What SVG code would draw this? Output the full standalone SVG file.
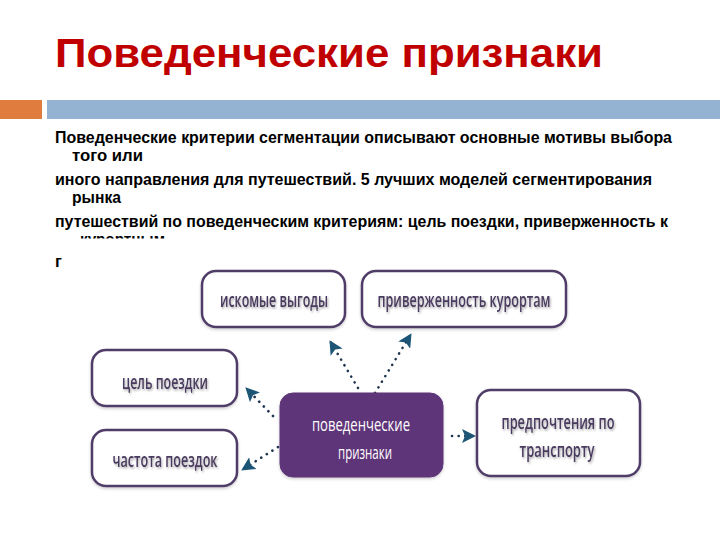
<svg xmlns="http://www.w3.org/2000/svg" width="720" height="540" viewBox="0 0 720 540">
<defs>
<style>
.title{font-family:"Liberation Sans",Arial,sans-serif;font-weight:bold;font-size:41px;fill:#c00000}
.body{font-family:"Liberation Sans",Arial,sans-serif;font-weight:bold;font-size:16.5px;fill:#000}
.box{fill:#fff;stroke:#503d68;stroke-width:2.5}
.core{fill:#5e3579;stroke:#5e3579;stroke-width:1}
.lbl{font-family:"Open Sans","Noto Sans",sans-serif;font-weight:600;font-size:19px;fill:#4a3b5e;text-anchor:middle;dominant-baseline:central}
.lblw{font-family:"Open Sans","Noto Sans",sans-serif;font-size:19px;fill:#fff;text-anchor:middle;dominant-baseline:central}
.dot{fill:none;stroke:#1f3550;stroke-width:2.6;stroke-linecap:round;stroke-dasharray:0.1 6.5}
</style>
<filter id="sh" x="-10%" y="-30%" width="120%" height="160%">
<feDropShadow dx="1" dy="1.5" stdDeviation="1" flood-color="#000" flood-opacity="0.35"/>
</filter>
<filter id="bs" x="-10%" y="-10%" width="120%" height="130%">
<feDropShadow dx="0" dy="1.5" stdDeviation="1.5" flood-color="#000" flood-opacity="0.2"/>
</filter>
<marker id="ah" markerUnits="userSpaceOnUse" markerWidth="14" markerHeight="14" refX="13" refY="7" orient="auto">
<path d="M0,0 L14,7 L0,14 L3,7 z" fill="#1d5577"/>
</marker>
<clipPath id="clip6"><rect x="0" y="228" width="720" height="10.5"/></clipPath>
</defs>

<rect x="0" y="0" width="720" height="540" fill="#fff"/>

<g id="header">
<text class="title" x="55" y="67" textLength="548" lengthAdjust="spacingAndGlyphs">Поведенческие признаки</text>
<rect x="0" y="100" width="42" height="19" fill="#e07c3e"/>
<rect x="47" y="100" width="673" height="19" fill="#94b3d2"/>
</g>

<g id="bodytext">
<text class="body" x="55" y="143" textLength="617" lengthAdjust="spacingAndGlyphs">Поведенческие критерии сегментации описывают основные мотивы выбора</text>
<text class="body" x="72" y="161" textLength="71" lengthAdjust="spacingAndGlyphs">того или</text>
<text class="body" x="55" y="185" textLength="597" lengthAdjust="spacingAndGlyphs">иного направления для путешествий. 5 лучших моделей сегментирования</text>
<text class="body" x="72" y="203" textLength="49" lengthAdjust="spacingAndGlyphs">рынка</text>
<text class="body" x="55" y="227" textLength="613" lengthAdjust="spacingAndGlyphs">путешествий по поведенческим критериям: цель поездки, приверженность к</text>
<text class="body" x="80" y="245" textLength="85" lengthAdjust="spacingAndGlyphs" clip-path="url(#clip6)">курортным</text>
<text class="body" x="55" y="267">г</text>
</g>

<g id="connectors">
<line class="dot" x1="358" y1="388" x2="330" y2="341" marker-end="url(#ah)"/>
<line class="dot" x1="375" y1="393" x2="411" y2="334" marker-end="url(#ah)"/>
<line class="dot" x1="273" y1="416" x2="246" y2="388" marker-end="url(#ah)"/>
<line class="dot" x1="278" y1="447" x2="242" y2="470" marker-end="url(#ah)"/>
<line class="dot" x1="452" y1="436" x2="475" y2="436" marker-end="url(#ah)"/>
</g>

<g id="n-iskomye">
<rect class="box" x="202" y="271" width="143" height="56" rx="14" filter="url(#bs)"/>
<text class="lbl" x="274" y="300" textLength="108" lengthAdjust="spacingAndGlyphs" filter="url(#sh)">искомые выгоды</text>
</g>

<g id="n-priverzh">
<rect class="box" x="362" y="271" width="204" height="56" rx="14" filter="url(#bs)"/>
<text class="lbl" x="464" y="300" textLength="173" lengthAdjust="spacingAndGlyphs" filter="url(#sh)">приверженность курортам</text>
</g>

<g id="n-tsel">
<rect class="box" x="92" y="350" width="145" height="56" rx="14" filter="url(#bs)"/>
<text class="lbl" x="165" y="382" textLength="86" lengthAdjust="spacingAndGlyphs" filter="url(#sh)">цель поездки</text>
</g>

<g id="n-chastota">
<rect class="box" x="92" y="430" width="145" height="56" rx="14" filter="url(#bs)"/>
<text class="lbl" x="165" y="460" textLength="105" lengthAdjust="spacingAndGlyphs" filter="url(#sh)">частота поездок</text>
</g>

<g id="n-center">
<rect class="core" x="280" y="393" width="163" height="84" rx="13" filter="url(#bs)"/>
<text class="lblw" x="361" y="424" textLength="98" lengthAdjust="spacingAndGlyphs">поведенческие</text>
<text class="lblw" x="365" y="452" textLength="54" lengthAdjust="spacingAndGlyphs">признаки</text>
</g>

<g id="n-transport">
<rect class="box" x="477" y="390" width="163" height="86" rx="14" filter="url(#bs)"/>
<text class="lbl" x="558" y="422" textLength="113" lengthAdjust="spacingAndGlyphs" filter="url(#sh)">предпочтения по</text>
<text class="lbl" x="557" y="450" textLength="75" lengthAdjust="spacingAndGlyphs" filter="url(#sh)">транспорту</text>
</g>
</svg>
